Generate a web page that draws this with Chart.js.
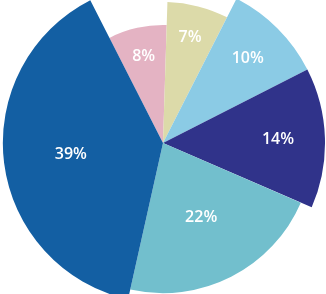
<!DOCTYPE html>
<html>
<head>
<meta charset="utf-8">
<script src="https://cdn.jsdelivr.net/npm/chart.js@4/dist/chart.umd.min.js"></script>
<style>
  html, body { margin: 0; padding: 0; background: #fff; }
  #wrap { width: 326px; height: 294px; position: relative; }
</style>
</head>
<body>
<div id="wrap"><canvas id="pie"></canvas></div>
<script>
// slices, clockwise from the top
let categories = ["A", "B", "C", "D", "E", "F"];
let values = [8, 7, 10, 14, 22, 39];

let colors = ["#E4B3C3", "#DCDAA9", "#8BCBE5", "#30338A", "#72BFCD", "#135FA3"];
// each slice is drawn with its own radius (relative to the pie radius)
let radiusScale = [0.825, 0.986, 1.133, 1.133, 1.05, 1.12];
// where the label sits, as a fraction of the slice radius
let labelScale = [0.75, 0.77, 0.74, 0.71, 0.56, 0.58];

const sliceRadius = {
    id: 'sliceRadius',
    beforeDatasetsDraw(chart) {
        let meta = chart.getDatasetMeta(0);
        let base = meta.controller.outerRadius;
        meta.data.forEach((arc, i) => {
            arc.outerRadius = base * radiusScale[i];
        });
    }
};

const sliceLabels = {
    id: 'sliceLabels',
    afterDatasetsDraw(chart) {
        let ctx = chart.ctx;
        let meta = chart.getDatasetMeta(0);
        let total = values.reduce((a, b) => a + b, 0);
        ctx.save();
        ctx.fillStyle = '#ffffff';
        ctx.font = '600 16px "Open Sans"';
        ctx.textAlign = 'center';
        ctx.textBaseline = 'middle';
        meta.data.forEach((arc, i) => {
            let mid = (arc.startAngle + arc.endAngle) / 2;
            let r = arc.outerRadius * labelScale[i];
            let pct = Math.round(values[i] / total * 100) + '%';
            ctx.fillText(pct, arc.x + Math.cos(mid) * r, arc.y + Math.sin(mid) * r);
        });
        ctx.restore();
    }
};

new Chart(document.getElementById('pie').getContext('2d'), {
    type: 'pie',
    data: {
        labels: categories,
        datasets: [{
            data: values,
            backgroundColor: colors,
            borderWidth: 0,
            clip: false
        }]
    },
    options: {
        maintainAspectRatio: false,
        responsive: true,
        animation: false,
        rotation: -27,
        layout: { padding: { bottom: 8 } },
        plugins: {
            legend: { display: false },
            tooltip: { enabled: false }
        }
    },
    plugins: [sliceRadius, sliceLabels]
});
</script>
</body>
</html>
